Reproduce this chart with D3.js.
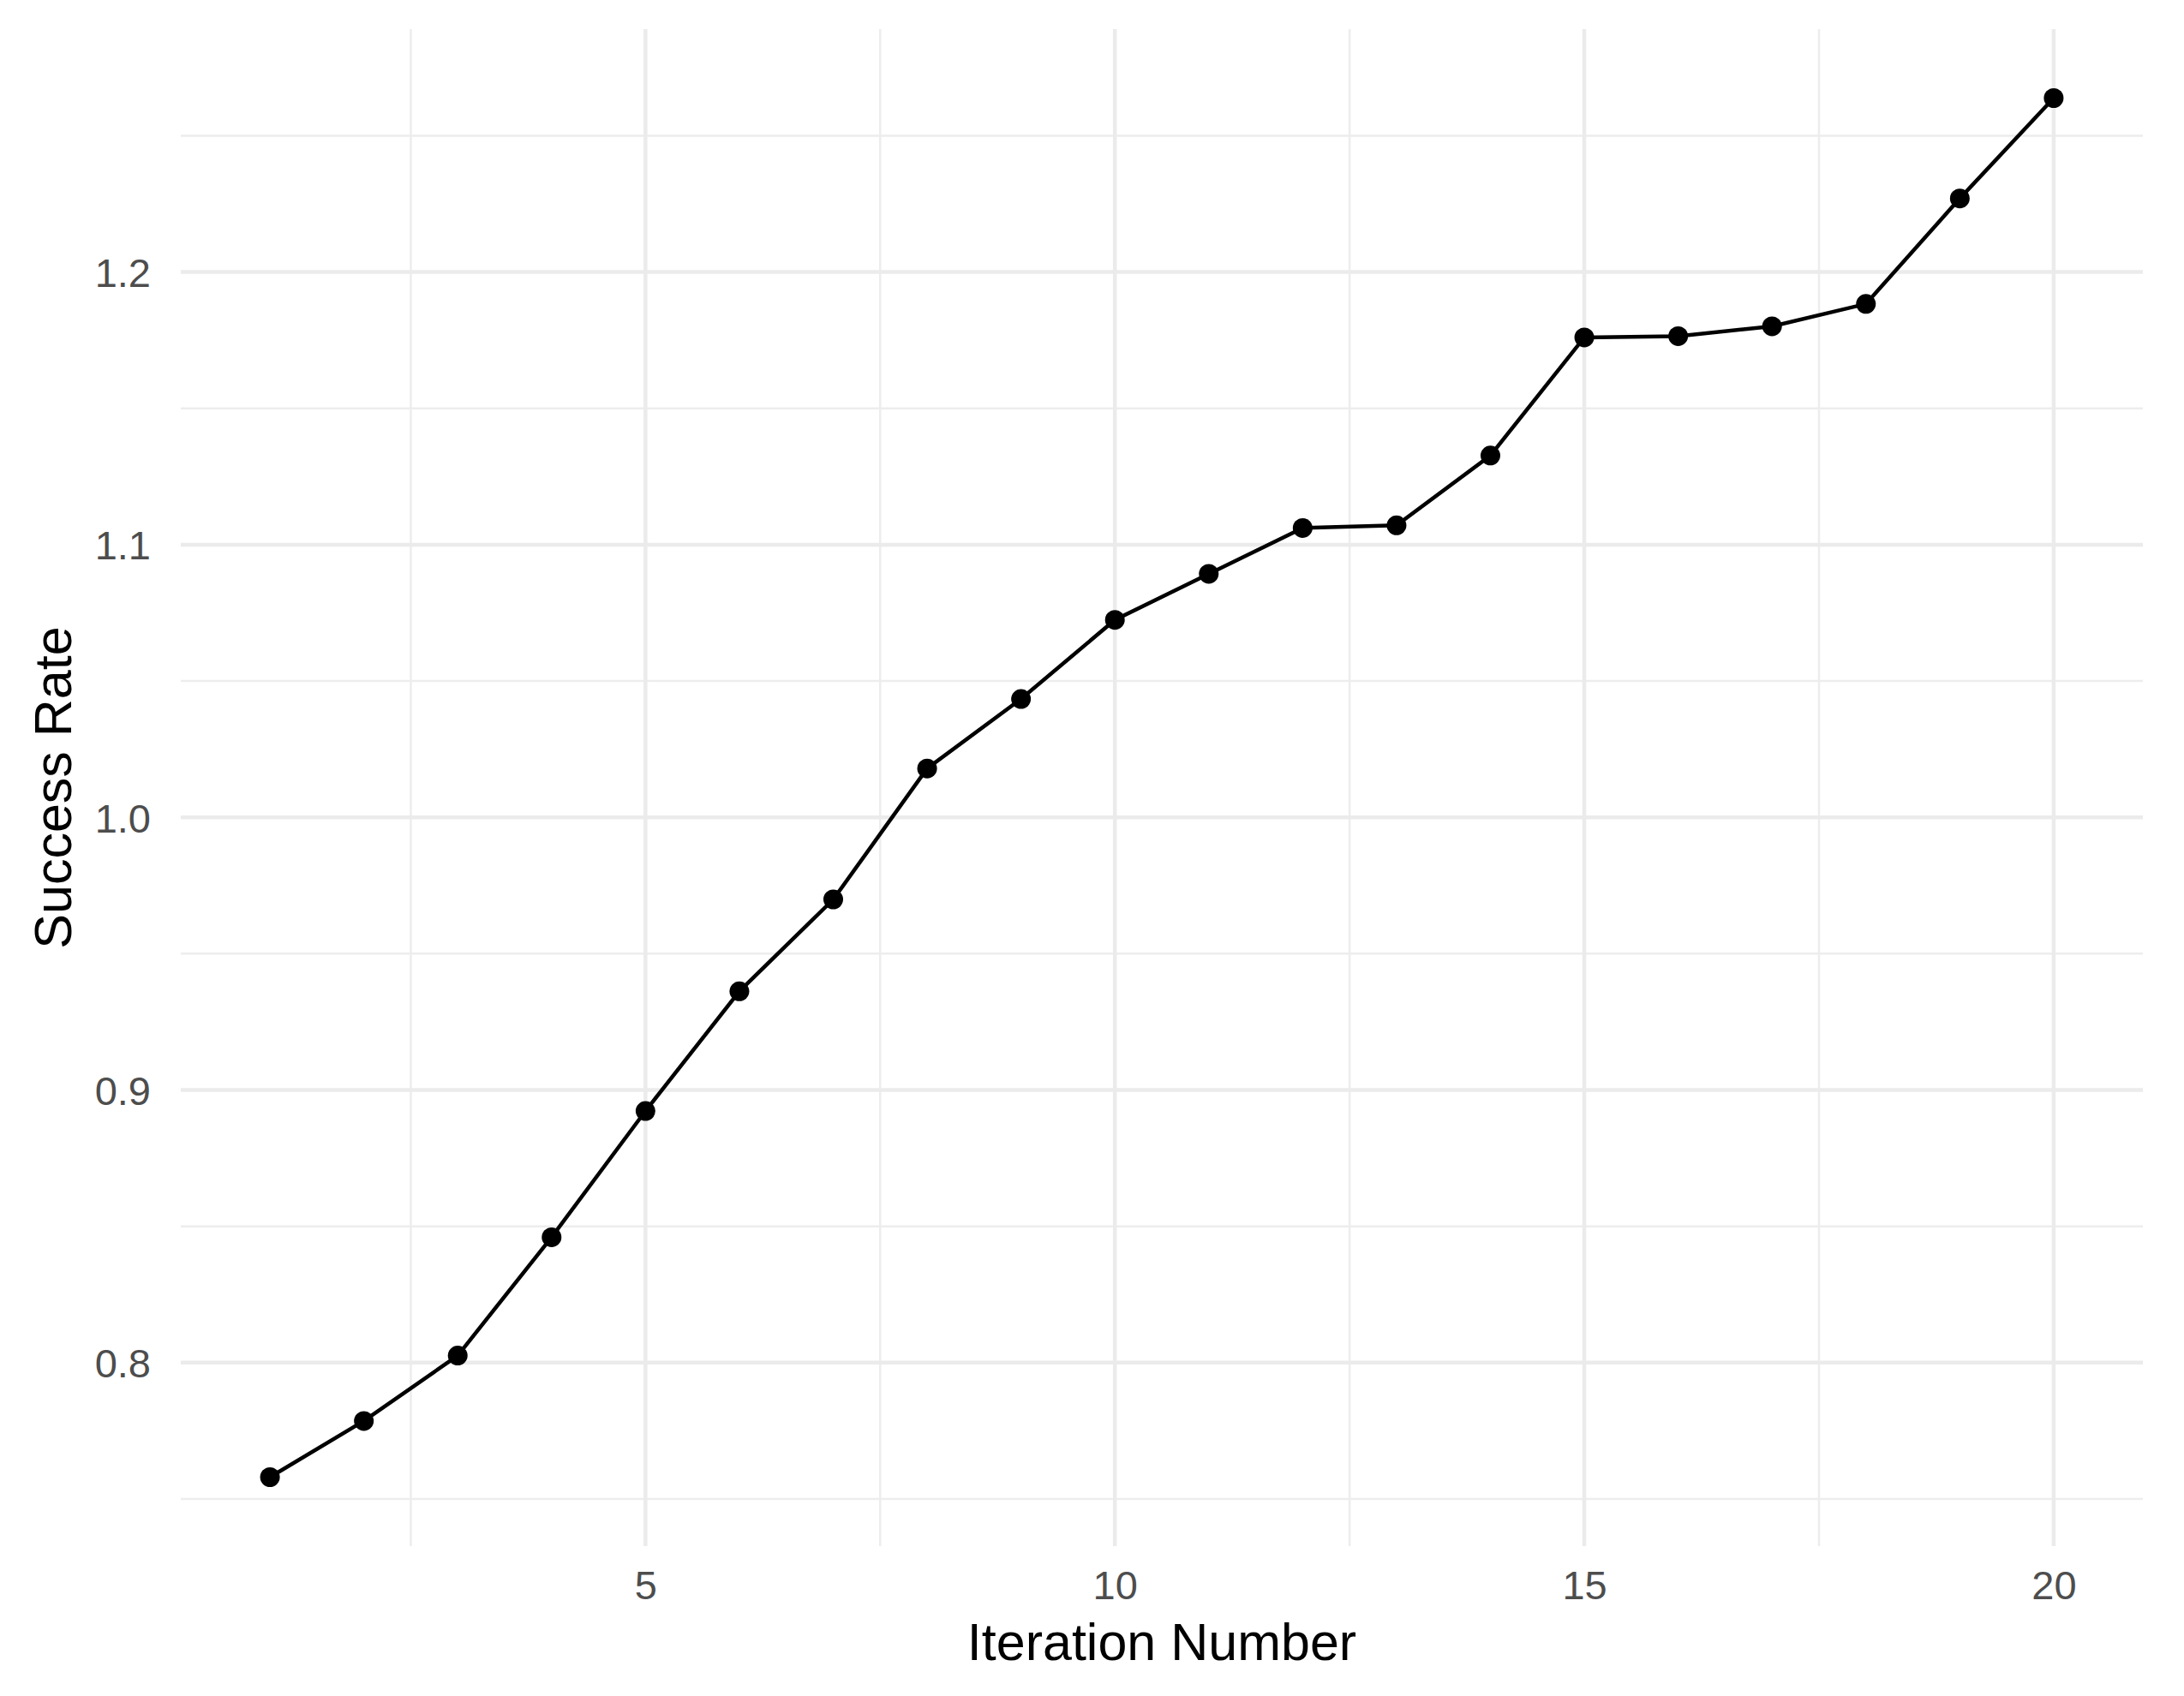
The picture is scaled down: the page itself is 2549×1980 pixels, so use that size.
<!DOCTYPE html>
<html>
<head>
<meta charset="utf-8">
<script src="https://cdn.jsdelivr.net/npm/d3@7"></script>
<style>
  body { margin: 0; background: #fff; }
  text { font-family: "Liberation Sans", Arial, sans-serif; }
</style>
</head>
<body>
<div id="chart"></div>
<script>
// data
var iterations = [1,2,3,4,5,6,7,8,9,10,11,12,13,14,15,16,17,18,19,20];
var successRate = [0.758,0.7786,0.8026,0.846,0.8923,0.9362,0.9699,1.0179,1.0434,1.0724,
                   1.0893,1.1061,1.1071,1.1327,1.176,1.1765,1.1801,1.1883,1.227,1.2638];
var xTicks = [5,10,15,20];
var xMinor = [2.5,7.5,12.5,17.5];
var yTicks = [0.8,0.9,1.0,1.1,1.2];
var yMinor = [0.75,0.85,0.95,1.05,1.15,1.25];

var svgWidth=2549;
var svgHeight=1980;

var margins={top: 34, right: 48, bottom: 175, left: 211};
var chartWidth=svgWidth-margins.left-margins.right;
var chartHeight=svgHeight-margins.top-margins.bottom;

var svg=d3.select('#chart')
    .append('svg')
    .attr('width', svgWidth)
    .attr('height', svgHeight);

var chartGroup=svg.append('g')
    .attr('transform', `translate(${margins.left}, ${margins.top})`);

// ggplot style 5% expansion
var xExt=d3.extent(iterations), xPad=(xExt[1]-xExt[0])*0.05;
var yExt=d3.extent(successRate), yPad=(yExt[1]-yExt[0])*0.05;

var xScale=d3.scaleLinear()
    .domain([xExt[0]-xPad, xExt[1]+xPad])
    .range([0, chartWidth]);

var yScale=d3.scaleLinear()
    .domain([yExt[0]-yPad, yExt[1]+yPad])
    .range([chartHeight, 0]);

// grid
var grid=chartGroup.append('g');
grid.selectAll('.ymin').data(yMinor).enter().append('line')
    .attr('x1', 0).attr('x2', chartWidth)
    .attr('y1', d => yScale(d)).attr('y2', d => yScale(d))
    .attr('stroke', '#ededed').attr('stroke-width', 2.5);
grid.selectAll('.xmin').data(xMinor).enter().append('line')
    .attr('y1', 0).attr('y2', chartHeight)
    .attr('x1', d => xScale(d)).attr('x2', d => xScale(d))
    .attr('stroke', '#ededed').attr('stroke-width', 2.5);
grid.selectAll('.ymaj').data(yTicks).enter().append('line')
    .attr('x1', 0).attr('x2', chartWidth)
    .attr('y1', d => yScale(d)).attr('y2', d => yScale(d))
    .attr('stroke', '#ebebeb').attr('stroke-width', 4.5);
grid.selectAll('.xmaj').data(xTicks).enter().append('line')
    .attr('y1', 0).attr('y2', chartHeight)
    .attr('x1', d => xScale(d)).attr('x2', d => xScale(d))
    .attr('stroke', '#ebebeb').attr('stroke-width', 4.5);

// axes (no lines, labels only)
var xAxis=d3.axisBottom(xScale).tickValues(xTicks).tickSize(0).tickPadding(62).tickFormat(d3.format('d'));
var yAxis=d3.axisLeft(yScale).tickValues(yTicks).tickSize(0).tickPadding(35).tickFormat(d3.format('.1f'));

var gx=chartGroup.append('g')
    .attr('transform', `translate(0, ${chartHeight})`)
    .call(xAxis);
var gy=chartGroup.append('g')
    .call(yAxis);

[gx, gy].forEach(g => {
    g.select('.domain').remove();
    g.selectAll('text')
        .attr('font-size', 47)
        .attr('fill', '#4d4d4d')
        .style('font-family', '"Liberation Sans", Arial, sans-serif');
});
gx.selectAll('text').attr('dy', 0);
gy.selectAll('text').attr('dy', '0.36em');

// axis titles
svg.append('text')
    .attr('x', margins.left+chartWidth/2)
    .attr('y', 1938)
    .attr('text-anchor', 'middle')
    .attr('font-size', 61)
    .attr('fill', '#000')
    .text('Iteration Number');

svg.append('text')
    .attr('transform', `translate(83, ${margins.top+chartHeight/2}) rotate(-90)`)
    .attr('text-anchor', 'middle')
    .attr('font-size', 61)
    .attr('fill', '#000')
    .text('Success Rate');

// line + points
var line=d3.line()
    .x((d,i) => xScale(iterations[i]))
    .y(d => yScale(d));

chartGroup.append('path')
    .datum(successRate)
    .attr('d', line)
    .attr('fill', 'none')
    .attr('stroke', '#000')
    .attr('stroke-width', 4.5);

chartGroup.selectAll('.pt')
    .data(successRate)
    .enter()
    .append('circle')
    .attr('cx', (d,i) => xScale(iterations[i]))
    .attr('cy', d => yScale(d))
    .attr('r', 11.5)
    .attr('fill', '#000');
</script>
</body>
</html>
